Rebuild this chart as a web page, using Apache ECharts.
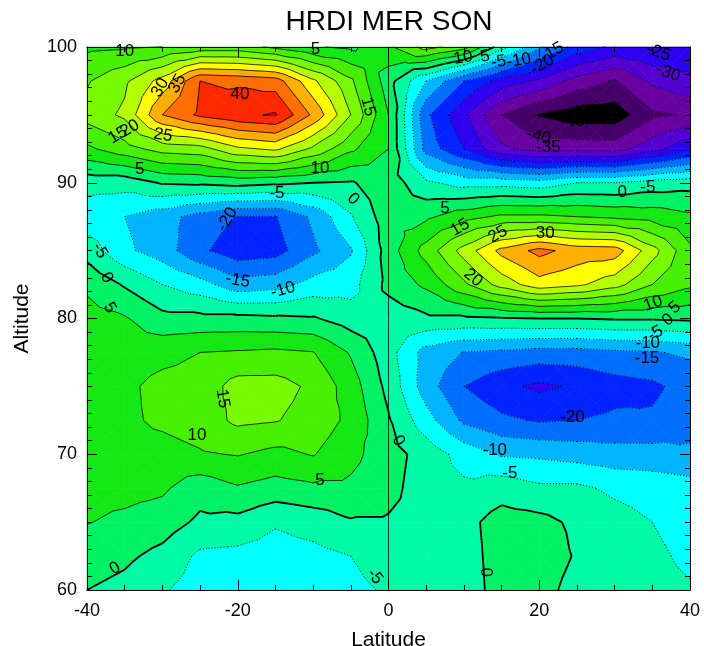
<!DOCTYPE html>
<html>
<head>
<meta charset="utf-8">
<script src="https://cdn.jsdelivr.net/npm/echarts@6/dist/echarts.min.js"></script>
<style>
  html, body { margin: 0; padding: 0; background: #ffffff; }
  #chart { width: 704px; height: 646px; }
</style>
</head>
<body>
<div id="chart"></div>
<script>
// Grid axes
const latitudes = [-40, -35, -30, -25, -20, -15, -10, -5, 0, 5, 10, 15, 20, 25, 30, 35, 40];
const altitudes = [60, 62.5, 65, 67.5, 70, 72.5, 75, 77.5, 80, 82.5, 85, 87.5, 90, 92.5, 95, 97.5, 100];

// Meridional wind (m/s), one row per altitude level, latitudes west to east
const mer060  = [0, -1.5, -4.5, -7, -8, -8, -7.5, -6, -4.5, -3, -2.5, 2, 2, -2, -2.5, -3.5, -4.5];
const mer062  = [2.5, 1, -1.5, -6, -6.5, -7, -6.5, -5, -3, -2.5, -2, 2, 3, -0.5, -2.5, -4, -6];
const mer065  = [5.2, 4, 2.5, -1, -1.5, -4.5, -3, -0.5, -0.5, -2, -1.5, 2, 1.5, -1, -3, -5, -7];
const mer067  = [6.5, 6.5, 5.8, 2, 4.5, 3, 4, 4, 1.5, -2.5, -4, -2, -4, -4, -6, -7, -8];
const mer070  = [7, 8, 8, 9.5, 10.3, 8.6, 10.3, 6.5, 2, -2, -7, -10.5, -11, -12, -13, -13, -14];
const mer072  = [7, 9, 11, 12.5, 16, 15.3, 13, 8.8, 0.5, -8, -16, -19, -20.5, -20, -19, -19.3, -17];
const mer075  = [7, 9, 11.5, 12, 17, 17, 14, 7.5, -1.5, -12.6, -20, -23.7, -26, -24.3, -22, -21, -18];
const mer077  = [7, 7.5, 8.5, 10, 10.5, 11, 10.2, 4.5, -3, -12, -15.2, -16, -17, -17, -16, -15.5, -14];
const mer080  = [7, 5.5, 1.5, 1.5, 1.5, 1, 0.5, -2.5, -3, -1, -1, -0.5, 0, 0, 0.5, 0.5, 1];
const mer082  = [4, -0.5, -5, -8, -13, -12, -8, -7, 1.5, 6, 14, 22, 28, 26, 22, 15, 11];
const mer085  = [-2, -9, -12.5, -19, -23, -22, -16, -10.5, 2.5, 12, 22, 31.5, 36.5, 33, 32.5, 22, 11];
const mer087  = [-8, -10, -13, -17, -20.3, -20.3, -14, -5.5, 3, 4, 8, 11, 11, 10, 9, 8, 6];
const mer090  = [-3, -3, 0.5, 1, 2, 1, 0, -0.5, 3, -4, -7, -7, -8, -5, -5, -3, -2];
const mer092  = [9, 13, 17, 18, 24, 26, 19, 11, 5, -17, -25, -34, -37, -37, -37.3, -32, -26];
const mer095  = [17, 21, 35, 41, 44, 45.5, 34, 20, 5, -19, -29, -40, -45.5, -48, -48, -41, -39.5];
const mer097  = [14.5, 19, 27, 40, 39, 37.5, 26, 16, 2, -10, -20, -27, -31, -37, -40.5, -34, -31];
const mer100  = [9, 9.5, 10, 12, 12, 9, 5.5, 4, 9, 17, 12, -3, -14, -22, -26, -25, -27];

// Contour levels and the fill colour of each band between them (lowest band first)
const levels = [-45, -40, -35, -30, -25, -20, -15, -10, -5, 0, 5, 10, 15, 20, 25, 30, 35, 40, 45];
const bandColors = [
  '#000000', 'rgb(70,0,105)', 'rgb(105,0,160)', 'rgb(85,0,210)', 'rgb(45,0,240)',
  'rgb(0,35,255)', 'rgb(0,110,255)', 'rgb(0,180,255)', 'rgb(0,255,255)', 'rgb(0,250,165)',
  'rgb(0,242,100)', 'rgb(20,232,20)', 'rgb(70,240,0)', 'rgb(120,250,0)', 'rgb(180,255,0)',
  'rgb(255,255,0)', 'rgb(255,175,0)', 'rgb(255,110,0)', 'rgb(255,40,0)', 'rgb(230,0,0)'
];

// Contour line labels: latitude, altitude, text, rotation (degrees)
const contourLabels = [
  [-35, 99.7, '10', 0], [-9.7, 99.8, '5', 0],
  [-30.3, 97.0, '30', 60], [-28, 97.3, '35', 60], [-19.7, 96.5, '40', 0],
  [-35.9, 93.5, '15', 30], [-34.3, 94.0, '20', 30], [-29.9, 93.5, '25', -10],
  [-2.7, 95.6, '15', -75], [-33, 91.0, '5', 0], [-9.1, 91.1, '10', 0],
  [-14.8, 89.2, '-5', 0], [-4.7, 88.8, '0', -45],
  [-21.4, 87.3, '-20', 60], [-20, 82.8, '-15', -10], [-14, 82.1, '-10', 15],
  [-38.3, 85.0, '-5', -60], [-37.4, 83.0, '0', -60], [-37, 80.8, '5', -60],
  [-22, 74.1, '15', -80], [-25.4, 71.4, '10', 0], [-9.1, 68.1, '5', 0],
  [-36.3, 61.6, '0', 30], [-1.8, 61.0, '-5', -50], [1.3, 71.0, '0', -60],
  [9.9, 99.2, '10', 10], [12.8, 99.3, '5', 10], [14.6, 98.9, '-5', 10], [17.3, 99.0, '-10', 10],
  [20.4, 98.7, '-20', 30], [21.7, 99.6, '-15', 30], [35.8, 99.6, '-25', -20], [37.1, 98.1, '-30', -20],
  [24.4, 94.5, '-45', 0], [19.9, 93.4, '-40', -15], [21.2, 92.6, '-35', 0],
  [31, 89.3, '0', 0], [34.4, 89.7, '-5', 0],
  [7.5, 88.1, '5', 0], [9.5, 86.7, '15', 30], [14.5, 86.2, '25', 30], [20.8, 86.3, '30', 0],
  [11.2, 83.0, '20', -40], [35.1, 81.1, '10', 20], [38.0, 80.8, '5', 40], [37.1, 79.9, '0', 40],
  [35.4, 78.9, '-5', 30], [34.4, 78.2, '-10', 0], [34.3, 77.1, '-15', 0],
  [24.4, 72.7, '-20', 0], [14.1, 70.3, '-10', 0], [16.1, 68.6, '-5', 0], [13.2, 61.3, '0', 90]
];

const grid = [mer060, mer062, mer065, mer067, mer070, mer072, mer075, mer077, mer080,
              mer082, mer085, mer087, mer090, mer092, mer095, mer097, mer100];

// Keep the part of a polygon where sign * (value - t) >= 0
function clipPoly(poly, t, sign) {
  const out = [];
  for (let k = 0; k < poly.length; k++) {
    const p = poly[k], q = poly[(k + 1) % poly.length];
    const pin = sign * (p[2] - t) >= 0, qin = sign * (q[2] - t) >= 0;
    if (pin && qin) out.push(q);
    else if (pin && !qin) out.push(cross(p, q, t));
    else if (!pin && qin) { out.push(cross(p, q, t)); out.push(q); }
  }
  return out;
}
function cross(p, q, t) {
  const f = (t - p[2]) / (q[2] - p[2]);
  return [p[0] + f * (q[0] - p[0]), p[1] + f * (q[1] - p[1]), t];
}

function renderContours(params, api) {
  const fills = [], lines = [], texts = [];
  const nx = latitudes.length, ny = altitudes.length;
  const triangles = [];
  for (let j = 0; j < ny - 1; j++) {
    for (let i = 0; i < nx - 1; i++) {
      const a = [latitudes[i], altitudes[j], grid[j][i]];
      const b = [latitudes[i + 1], altitudes[j], grid[j][i + 1]];
      const c = [latitudes[i + 1], altitudes[j + 1], grid[j + 1][i + 1]];
      const d = [latitudes[i], altitudes[j + 1], grid[j + 1][i]];
      const m = [(a[0] + b[0]) / 2, (a[1] + d[1]) / 2, (a[2] + b[2] + c[2] + d[2]) / 4];
      triangles.push([a, b, m], [b, c, m], [c, d, m], [d, a, m]);
    }
  }
  const toPx = p => api.coord([p[0], p[1]]);
  for (const tri of triangles) {
    const vs = tri.map(p => p[2]);
    const vmin = Math.min(...vs), vmax = Math.max(...vs);
    for (let k = 0; k < bandColors.length; k++) {
      const lo = k === 0 ? -Infinity : levels[k - 1];
      const hi = k === levels.length ? Infinity : levels[k];
      if (vmax < lo || vmin >= hi) continue;
      let poly = tri;
      if (isFinite(lo)) poly = clipPoly(poly, lo, 1);
      if (poly.length >= 3 && isFinite(hi)) poly = clipPoly(poly, hi, -1);
      if (poly.length < 3) continue;
      fills.push({
        type: 'polygon', silent: true,
        shape: { points: poly.map(toPx) },
        style: { fill: bandColors[k], stroke: bandColors[k], lineWidth: 0.7 }
      });
    }
    for (const L of levels) {
      if (vmax < L || vmin > L) continue;
      const pts = [];
      for (let e = 0; e < 3; e++) {
        const p = tri[e], q = tri[(e + 1) % 3];
        if ((p[2] >= L) !== (q[2] >= L)) pts.push(cross(p, q, L));
      }
      if (pts.length !== 2) continue;
      const style = L === 0
        ? { stroke: '#000', lineWidth: 1.8 }
        : L < 0
          ? { stroke: '#000', lineWidth: 0.9, lineDash: [1, 2] }
          : { stroke: '#000', lineWidth: 0.8 };
      const p1 = toPx(pts[0]), p2 = toPx(pts[1]);
      lines.push({ type: 'line', silent: true,
        shape: { x1: p1[0], y1: p1[1], x2: p2[0], y2: p2[1] }, style: style });
    }
  }
  // equator reference line
  const top = api.coord([0, 100]), bottom = api.coord([0, 60]);
  lines.push({ type: 'line', silent: true,
    shape: { x1: top[0], y1: top[1], x2: bottom[0], y2: bottom[1] },
    style: { stroke: '#000', lineWidth: 0.8 } });
  for (const lab of contourLabels) {
    const p = api.coord([lab[0], lab[1]]);
    texts.push({
      type: 'text', silent: true, x: p[0], y: p[1], rotation: lab[3] * Math.PI / 180,
      style: { text: lab[2], fill: '#000', font: '17px "Liberation Sans", Arial, sans-serif',
               align: 'center', verticalAlign: 'middle' }
    });
  }
  return { type: 'group', children: fills.concat(lines, texts) };
}

const axisFont = { color: '#000', fontSize: 18, fontFamily: '"Liberation Sans", Arial, sans-serif' };
const nameFont = { color: '#000', fontSize: 21, fontFamily: '"Liberation Sans", Arial, sans-serif' };
const tickStyle = { color: '#000', width: 1 };
const frameLine = { onZero: false, lineStyle: { color: '#000', width: 1 } };
const chart = echarts.init(document.getElementById('chart'), null, { renderer: 'canvas' });
chart.setOption({
  animation: false,
  backgroundColor: '#ffffff',
  grid: { left: 87, right: 14, top: 47, bottom: 56, containLabel: false, outerBoundsMode: 'none' },
  graphic: [{
    type: 'text', x: 389, y: 22, silent: true,
    style: { text: 'HRDI MER SON', fill: '#000', align: 'center', verticalAlign: 'middle',
             font: '28px "Liberation Sans", Arial, sans-serif' }
  }],
  xAxis: [{
    type: 'value', min: -40, max: 40, interval: 20, position: 'bottom', z: 10,
    name: 'Latitude', nameLocation: 'middle', nameGap: 40,
    nameTextStyle: nameFont,
    axisLine: frameLine,
    axisTick: { inside: true, length: 10, lineStyle: tickStyle },
    minorTick: { show: true, splitNumber: 4, length: 5, lineStyle: tickStyle },
    axisLabel: Object.assign({ margin: 12 }, axisFont),
    splitLine: { show: false }
  }, {
    type: 'value', min: -40, max: 40, interval: 20, position: 'top', z: 10,
    axisLine: frameLine,
    axisTick: { inside: true, length: 10, lineStyle: tickStyle },
    minorTick: { show: true, splitNumber: 4, length: 5, lineStyle: tickStyle },
    axisLabel: { show: false }, splitLine: { show: false }
  }],
  yAxis: [{
    type: 'value', min: 60, max: 100, interval: 10, position: 'left', z: 10,
    name: 'Altitude', nameLocation: 'middle', nameGap: 54, nameRotate: 90,
    nameTextStyle: nameFont,
    axisLine: frameLine,
    axisTick: { inside: true, length: 10, lineStyle: tickStyle },
    minorTick: { show: true, splitNumber: 10, length: 5, lineStyle: tickStyle },
    axisLabel: Object.assign({ margin: 10 }, axisFont),
    splitLine: { show: false }
  }, {
    type: 'value', min: 60, max: 100, interval: 10, position: 'right', z: 10,
    axisLine: frameLine,
    axisTick: { inside: true, length: 10, lineStyle: tickStyle },
    minorTick: { show: true, splitNumber: 10, length: 5, lineStyle: tickStyle },
    axisLabel: { show: false }, splitLine: { show: false }
  }],
  series: [{
    type: 'custom',
    coordinateSystem: 'cartesian2d',
    xAxisIndex: 0, yAxisIndex: 0,
    silent: true,
    z: 1,
    data: [[0, 80]],
    renderItem: renderContours
  }]
});
</script>
</body>
</html>
